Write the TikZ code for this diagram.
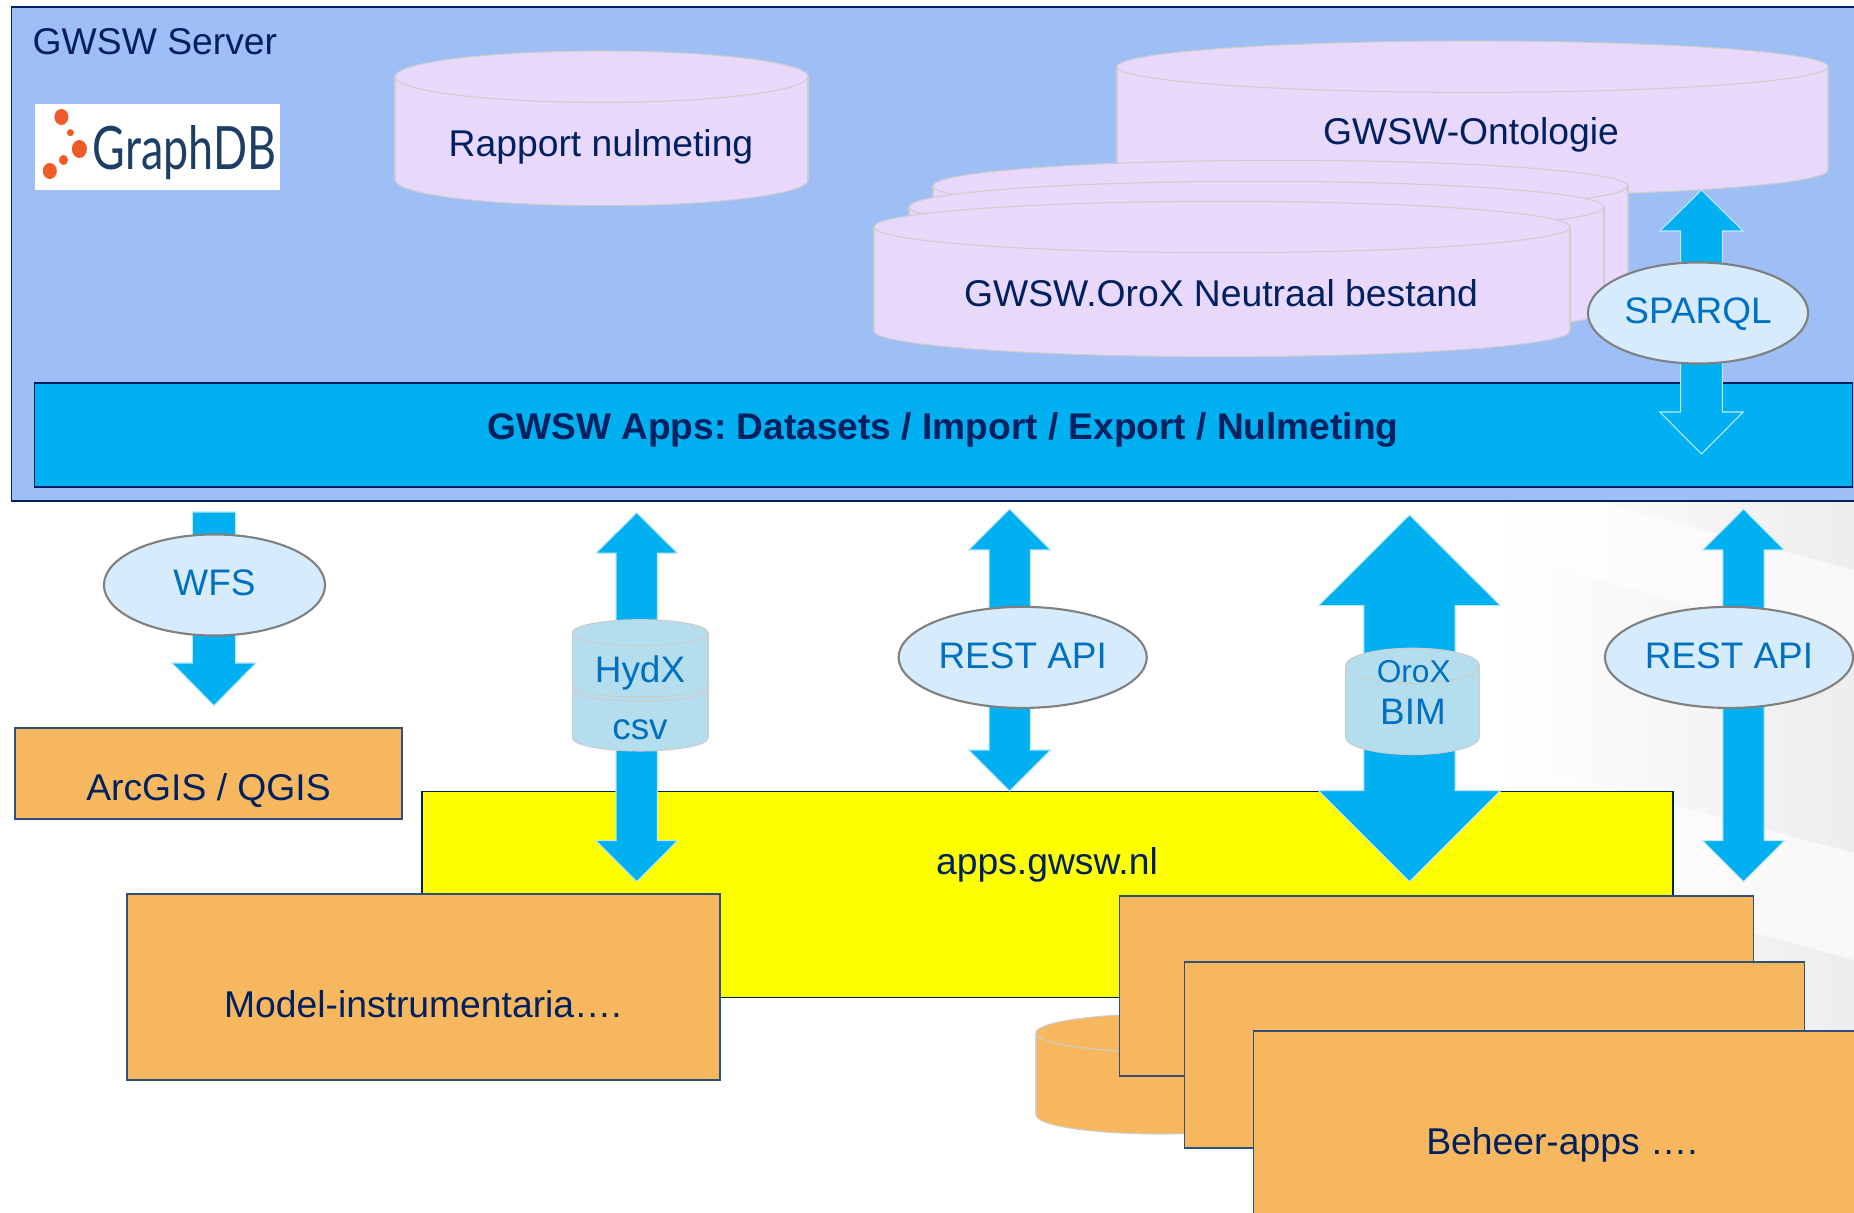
\documentclass[tikz,border=0pt]{standalone}
\usepackage{fontspec}
\setmainfont{Liberation Sans}
\newfontfamily\logofont{Lato}
\usepackage{tikz}
\usetikzlibrary{calc,shapes.geometric}

\definecolor{srvblue}{HTML}{9DBFF6}
\definecolor{navy}{HTML}{002060}
\definecolor{boxline}{HTML}{2F5078}
\definecolor{arrowblue}{HTML}{00B0F0}
\definecolor{arrowline}{HTML}{BDE8FA}
\definecolor{lilac}{HTML}{E8D8FB}
\definecolor{cylline}{HTML}{CDCDCD}
\definecolor{palecyl}{HTML}{B4DDEE}
\definecolor{paleoval}{HTML}{D6ECFD}
\definecolor{textblue}{HTML}{0070C0}
\definecolor{boxorange}{HTML}{F6B75F}
\definecolor{appyellow}{HTML}{FFFF00}
\definecolor{dots}{HTML}{F15A29}
\definecolor{logotext}{HTML}{1D3F66}

\tikzset{
    box/.style={rectangle,draw=boxline,line width=.5pt,inner sep=0pt},
    navytxt/.style={text=navy,font=\fontsize{10.6}{12}\selectfont,inner sep=0pt,text height=.266cm,text depth=.003cm},
    bluetxt/.style={text=textblue,font=\fontsize{10.5}{12}\selectfont,inner sep=0pt,text height=.266cm,text depth=.003cm},
    oval/.style={ellipse,draw=gray,line width=.6pt,fill=paleoval,inner sep=0pt,minimum height=1.01cm,
        text=textblue,font=\fontsize{10.5}{12}\selectfont,text height=.266cm,text depth=.053cm},
    cyl/.style={draw=cylline,line width=.3pt},
    arrowbody/.style={fill=arrowblue,draw=arrowline,line width=.3pt}
}

% fill, left, right, top rim, bottom rim, y radius
\newcommand{\dbcyl}[6]{
    \pgfmathsetmacro{\cx}{(#2+#3)/2}
    \pgfmathsetmacro{\rx}{(#3-#2)/2}
    \draw[cyl,fill=#1] (\cx,#5) ellipse [x radius=\rx,y radius=#6];
    \fill[#1] (#2,#4) rectangle (#3,#5);
    \draw[cyl] (#2,#4) -- (#2,#5) (#3,#4) -- (#3,#5);
    \draw[cyl,fill=#1] (\cx,#4) ellipse [x radius=\rx,y radius=#6];
}

% from, to, top head length, bottom head length, head half width, shaft half width
\newcommand{\blockarrow}[6]{
    \draw[arrowbody] (#1) -- ($(#1)+(#5,#3)$) -- ($(#1)+(#6,#3)$) -- ($(#2)+(#6,-#4)$)
        -- ($(#2)+(#5,-#4)$) -- (#2) -- ($(#2)+(-#5,-#4)$) -- ($(#2)+(-#6,-#4)$)
        -- ($(#1)+(-#6,#3)$) -- ($(#1)+(-#5,#3)$) -- cycle;
}

\begin{document}
\frenchspacing
\begin{tikzpicture}[x=0.01cm,y=-0.01cm]

    \useasboundingbox (0,0) rectangle (1854,1213);
    \clip (0,0) rectangle (1854,1213);

    % pale backdrop, lower right
    \fill[left color=white,right color=black!7] (1500,502) rectangle (1854,1213);
    \fill[white,opacity=.65] (1500,476) -- (1854,570) -- (1854,650) -- (1500,553) -- cycle;
    \fill[white,opacity=.65] (1500,759) -- (1854,853) -- (1854,960) -- (1500,863) -- cycle;

    % server
    \node (srv) [box,fill=srvblue,draw=navy,minimum width=18.58cm,minimum height=4.943cm] at (941,254) {};
    \node (srvtxt) [navytxt,anchor=west] at (32,41) {GWSW Server};
    \node (logo) [fill=white,inner sep=0pt,minimum width=2.45cm,minimum height=.86cm] at (157.5,147) {};
    \fill[dots] (61.4,117) ellipse [x radius=7,y radius=8];
    \fill[dots] (70.4,132.7) ellipse [x radius=3.5,y radius=3.5];
    \fill[dots] (79.4,149) ellipse [x radius=7.5,y radius=9];
    \fill[dots] (63.5,160) ellipse [x radius=4.5,y radius=5];
    \fill[dots] (49.8,171) ellipse [x radius=7,y radius=8];
    \node (logotxt) [text=logotext,inner sep=0pt,anchor=base west,font=\logofont\fontsize{17}{20}\selectfont] at (92,170) {\scalebox{.75}[1]{GraphDB}};

    \node (apps) [box,fill=arrowblue,draw=navy,minimum width=18.17cm,minimum height=1.04cm] at (943.5,435) {};
    \node (appstxt) [navytxt,font=\bfseries\fontsize{10.55}{12}\selectfont] at (943,426) {GWSW Apps: Datasets / Import / Export / Nulmeting};

    % databases
    \dbcyl{lilac}{395}{808}{76.7}{180}{25.7}
    \node (rapport) [navytxt] at (601,143) {Rapport nulmeting};
    \dbcyl{lilac}{1117}{1828}{66.7}{170}{25.7}
    \node (onto) [navytxt] at (1471,131) {GWSW-Ontologie};

    \dbcyl{lilac}{933}{1628}{186}{290}{25.7}
    \dbcyl{lilac}{909}{1604}{207}{311}{25.7}
    \dbcyl{lilac}{874}{1570}{227}{331}{25.7}
    \node (orox) [navytxt] at (1221,293) {GWSW.OroX Neutraal bestand};

    \coordinate (sparqlTop) at (1701.5,190);
    \coordinate (sparqlEnd) at (1701.5,454);
    \blockarrow{sparqlTop}{sparqlEnd}{41}{42}{41.6}{20.8}
    \node (sparql) [oval,minimum width=2.2cm] at (1698,313) {SPARQL};

    % lower row
    \node (yel) [box,fill=appyellow,draw=navy,minimum width=12.5cm,minimum height=2.06cm] at (1047.5,894.5) {};
    \node (yeltxt) [navytxt] at (1047,861) {apps.gwsw.nl};
    \node (gis) [box,fill=boxorange,minimum width=3.87cm,minimum height=.91cm] at (208.5,773.5) {};
    \node (gistxt) [navytxt] at (208.5,787) {ArcGIS / QGIS};

    \coordinate (wfsTop) at (214,512);
    \coordinate (wfsEnd) at (214,705.7);
    \draw[arrowbody] ($(wfsTop)+(-21.7,0)$) -- ($(wfsTop)+(21.7,0)$) -- ($(wfsEnd)+(21.7,-42.7)$)
        -- ($(wfsEnd)+(42,-42.7)$) -- (wfsEnd) -- ($(wfsEnd)+(-42,-42.7)$) -- ($(wfsEnd)+(-21.7,-42.7)$) -- cycle;
    \node (wfs) [oval,minimum width=2.21cm] at (214.5,585) {WFS};

    \coordinate (hydTop) at (636.7,512.7);
    \coordinate (hydEnd) at (636.7,881.7);
    \blockarrow{hydTop}{hydEnd}{40.5}{41}{40.8}{20.7}
    \dbcyl{palecyl}{572.4}{708}{632.7}{738}{13}
    \draw[cyl] (572.4,685) .. controls (572.4,701) and (708,701) .. (708,685);
    \draw[cyl] (572.4,689) .. controls (572.4,705) and (708,705) .. (708,689);
    \node (hydx) [bluetxt] at (640,669) {HydX};
    \node (csv) [bluetxt] at (640,726) {csv};

    \coordinate (restTop) at (1009.7,509);
    \coordinate (restEnd) at (1009.7,791);
    \blockarrow{restTop}{restEnd}{41}{41}{41}{20.7}
    \node (rest) [oval,minimum width=2.48cm] at (1022.7,657.4) {REST API};

    \coordinate (bimTop) at (1409.5,515);
    \coordinate (bimEnd) at (1409.5,881.7);
    \blockarrow{bimTop}{bimEnd}{90.7}{91}{91}{45.6}
    \dbcyl{palecyl}{1345.5}{1479.6}{665.7}{737}{17.5}
    \node (orox2) [bluetxt,font=\fontsize{9}{11}\selectfont] at (1413.7,669) {OroX};
    \node (bim) [bluetxt] at (1413,711) {BIM};

    \coordinate (rest2Top) at (1743.5,509);
    \coordinate (rest2End) at (1743.5,881.7);
    \blockarrow{rest2Top}{rest2End}{41}{41}{40.8}{20.6}
    \node (rest2) [oval,minimum width=2.48cm] at (1729,657.4) {REST API};

    % applications
    \node (model) [box,fill=boxorange,minimum width=5.92cm,minimum height=1.86cm] at (423.5,987) {};
    \node (modeltxt) [navytxt] at (423,1004) {Model-instrumentaria….};

    \dbcyl{boxorange}{1036}{1285}{1033}{1115}{19}
    \node (beheer1) [box,fill=boxorange,minimum width=6.335cm,minimum height=1.8cm] at (1436.5,986) {};
    \node (beheer2) [box,fill=boxorange,minimum width=6.195cm,minimum height=1.86cm] at (1494.5,1055) {};
    \node (beheer3) [box,fill=boxorange,minimum width=6.2cm,minimum height=2.22cm] at (1563.7,1142) {};
    \node (beheertxt) [navytxt] at (1562,1141) {Beheer-apps ….};

\end{tikzpicture}
\end{document}
